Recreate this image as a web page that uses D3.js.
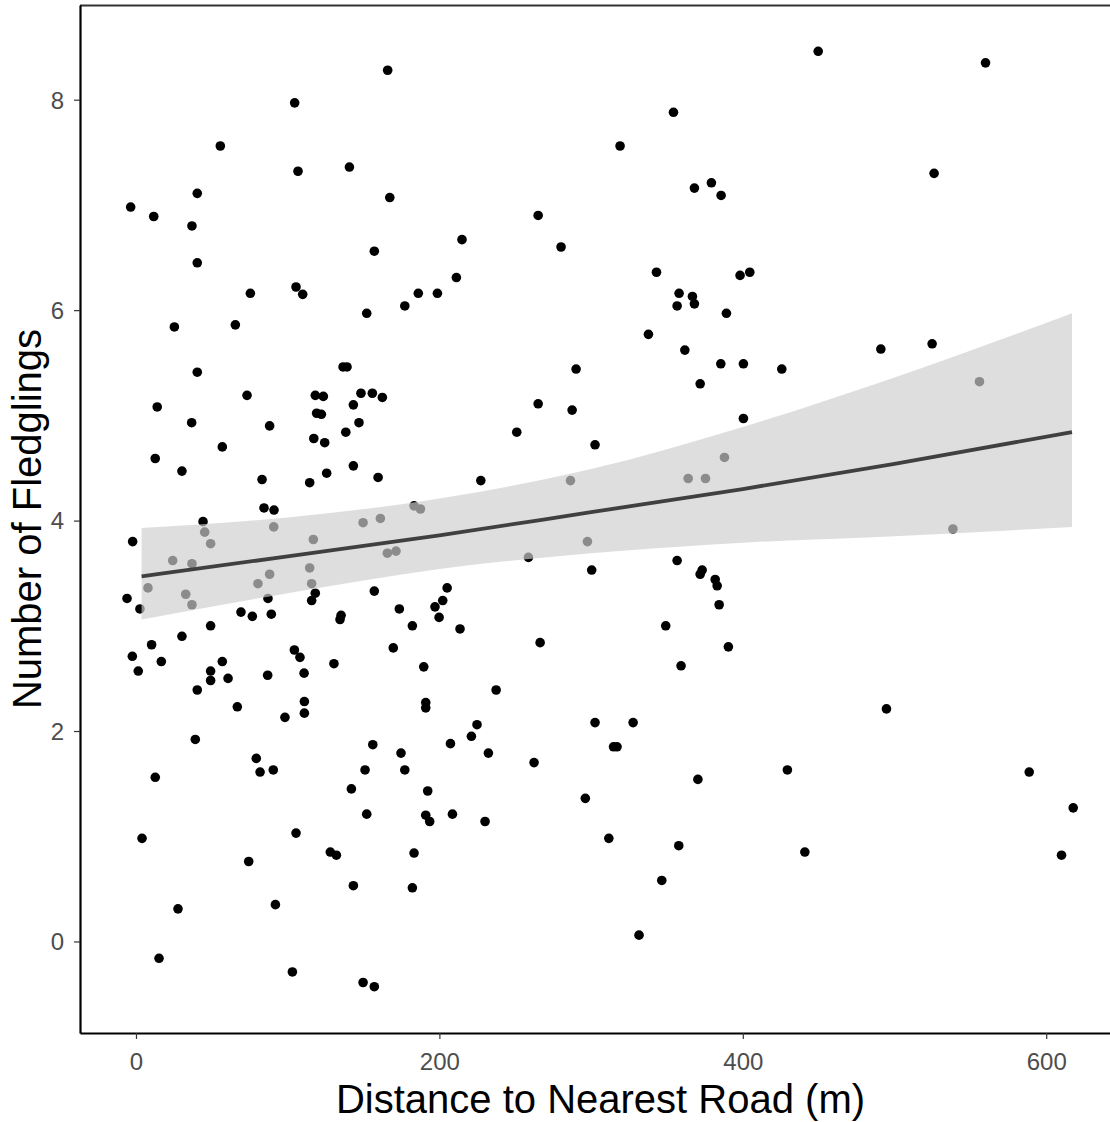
<!DOCTYPE html>
<html><head><meta charset="utf-8">
<script src="https://cdn.jsdelivr.net/npm/d3@7"></script>
<style>body{margin:0;background:#fff;} svg{display:block;}</style>
</head><body>
<script>
// Distance to nearest road (m) for each nest
const distance = [
104.6,55.6,106.8,40.4,-3.5,11.7,36.9,40.4,75.4,105.5,109.9,25.3,65.5,
165.9,140.7,167.3,265.1,214.9,280.2,157.1,211.2,186.1,198.7,177.2,152.1,
449.7,354.3,319.1,379.3,368.1,385.7,343.1,398.2,404.6,358.0,366.8,356.7,368.1,389.2,337.8,361.8,
560.0,526.1,524.8,491.0,
40.4,14.0,73.2,118.2,123.5,36.7,88.1,119.1,122.2,56.9,12.7,117.2,124.4,30.3,83.1,114.5,125.7,84.4,91.0,44.2,
45.3,49.2,90.8,116.9,24.2,36.9,88.1,80.4,114.5,115.8,7.9,32.8,36.9,2.6,-2.2,-5.9,118.2,115.8,87.0,69.2,76.7,89.2,
49.2,30.3,10.3,-2.4,16.7,1.5,56.9,104.4,108.1,130.5,49.2,49.2,60.7,86.8,110.8,40.4,
136.5,139.1,290.1,148.3,155.8,162.4,143.3,265.1,287.5,147.0,138.3,251.0,302.6,143.3,159.6,227.3,286.4,183.3,187.5,
149.7,161.1,165.7,171.4,258.7,297.6,300.4,157.1,205.1,202.2,197.1,199.8,173.6,135.2,134.5,182.2,213.6,169.6,266.4,189.7,237.4,
385.5,400.4,425.7,371.9,400.4,387.9,364.0,375.4,356.7,373.2,371.9,381.8,383.1,384.4,349.2,390.5,359.3,
556.0,538.5,
66.8,111.0,111.0,98.2,39.1,79.3,81.8,90.5,12.7,105.5,128.1,132.1,4.0,74.3,27.7,91.9,15.2,103.1,
191.0,191.0,224.8,221.1,156.1,174.7,207.3,232.3,262.4,302.6,151.0,177.2,142.0,192.3,296.2,152.1,191.0,193.6,208.6,230.1,183.3,143.3,182.2,149.7,157.1,
327.7,314.8,317.1,370.4,429.4,311.7,357.8,440.9,346.6,331.6,
494.7,588.8,617.8,610.1
];
// Number of fledglings (jittered) for each nest
const fledglings = [
7.97,7.56,7.32,7.11,6.98,6.89,6.80,6.45,6.16,6.22,6.15,5.84,5.86,
8.28,7.36,7.07,6.90,6.67,6.60,6.56,6.31,6.16,6.16,6.04,5.97,
8.46,7.88,7.56,7.21,7.16,7.09,6.36,6.33,6.36,6.16,6.13,6.04,6.06,5.97,5.77,5.62,
8.35,7.30,5.68,5.63,
5.41,5.08,5.19,5.19,5.18,4.93,4.90,5.02,5.01,4.70,4.59,4.78,4.74,4.47,4.39,4.36,4.45,4.12,4.10,3.99,
3.89,3.78,3.94,3.82,3.62,3.59,3.49,3.40,3.55,3.40,3.36,3.30,3.20,3.16,3.80,3.26,3.31,3.24,3.26,3.13,3.09,3.11,
3.00,2.90,2.82,2.71,2.66,2.57,2.66,2.77,2.70,2.64,2.57,2.48,2.50,2.53,2.55,2.39,
5.46,5.46,5.44,5.21,5.21,5.17,5.10,5.11,5.05,4.93,4.84,4.84,4.72,4.52,4.41,4.38,4.38,4.14,4.11,
3.98,4.02,3.69,3.71,3.65,3.80,3.53,3.33,3.36,3.24,3.18,3.08,3.16,3.10,3.06,3.00,2.97,2.79,2.84,2.61,2.39,
5.49,5.49,5.44,5.30,4.97,4.60,4.40,4.40,3.62,3.53,3.49,3.44,3.38,3.20,3.00,2.80,2.62,
5.32,3.92,
2.23,2.28,2.17,2.13,1.92,1.74,1.61,1.63,1.56,1.03,0.85,0.82,0.98,0.76,0.31,0.35,-0.16,-0.29,
2.27,2.22,2.06,1.95,1.87,1.79,1.88,1.79,1.70,2.08,1.63,1.63,1.45,1.43,1.36,1.21,1.20,1.14,1.21,1.14,0.84,0.53,0.51,-0.39,-0.43,
2.08,1.85,1.85,1.54,1.63,0.98,0.91,0.85,0.58,0.06,
2.21,1.61,1.27,0.82
];
// fitted trend and confidence band
const fitX  = [3.7, 100, 200, 300, 400, 500, 617];
const fitY  = [3.47, 3.66, 3.86, 4.08, 4.30, 4.54, 4.84];
const fitLo = [3.06, 3.31, 3.54, 3.69, 3.79, 3.85, 3.94];
const fitHi = [3.93, 4.03, 4.21, 4.49, 4.89, 5.36, 5.97];
const xTicks = [0, 200, 400, 600];
const yTicks = [0, 2, 4, 6, 8];
const xTitle = "Distance to Nearest Road (m)";
const yTitle = "Number of Fledglings";

const W = 1110, H = 1122;
const L = 80, R = 1121, T = 5, B = 1033;
const svg = d3.select("body").append("svg").attr("width", W).attr("height", H)
  .style("font-family", "'Liberation Sans', Arial, sans-serif");

const x = d3.scaleLinear().domain([-36.9, 649.3]).range([L, R]);
const y = d3.scaleLinear().domain([-0.87, 8.9]).range([B, T]);

const pts = distance.map((d, i) => ({x: d, y: fledglings[i]}));
const fit = fitX.map((d, i) => ({x: d, y: fitY[i], lo: fitLo[i], hi: fitHi[i]}));

svg.append("g").selectAll("circle").data(pts).join("circle")
  .attr("cx", d => x(d.x)).attr("cy", d => y(d.y)).attr("r", 4.8).attr("fill", "#000");

svg.append("path").datum(fit)
  .attr("d", d3.area().x(d => x(d.x)).y0(d => y(d.lo)).y1(d => y(d.hi)).curve(d3.curveMonotoneX))
  .attr("fill", "rgb(206,206,206)").attr("fill-opacity", 0.68);

svg.append("path").datum(fit)
  .attr("d", d3.line().x(d => x(d.x)).y(d => y(d.y)).curve(d3.curveMonotoneX))
  .attr("fill", "none").attr("stroke", "#404040").attr("stroke-width", 3.8);

// top border
svg.append("line").attr("x1", L).attr("x2", W).attr("y1", T + 0.5).attr("y2", T + 0.5)
  .attr("stroke", "#333").attr("stroke-width", 2);

const xAxis = svg.append("g").attr("transform", `translate(0,${B})`)
  .call(d3.axisBottom(x).tickValues(xTicks).tickSizeInner(6).tickSizeOuter(0).tickPadding(4).tickFormat(d3.format("d")));
xAxis.select(".domain").attr("stroke", "#000").attr("stroke-width", 2.2);
xAxis.selectAll(".tick line").attr("stroke", "#333").attr("stroke-width", 1.2);
xAxis.selectAll(".tick text").attr("fill", "#4d4d4d").attr("font-size", 24)
  .attr("y", 37).attr("dy", null).attr("font-family", "'Liberation Sans', Arial, sans-serif");

const yAxis = svg.append("g").attr("transform", `translate(${L},0)`)
  .call(d3.axisLeft(y).tickValues(yTicks).tickSizeInner(6).tickSizeOuter(0).tickPadding(5).tickFormat(d3.format("d")));
yAxis.select(".domain").attr("stroke", "#000").attr("stroke-width", 2.2);
yAxis.selectAll(".tick line").attr("stroke", "#333").attr("stroke-width", 1.2);
yAxis.selectAll(".tick text").attr("fill", "#4d4d4d").attr("font-size", 24)
  .attr("x", -16).attr("dy", "0.35em").attr("font-family", "'Liberation Sans', Arial, sans-serif");

svg.append("text").attr("x", (L + R) / 2).attr("y", 1113).attr("text-anchor", "middle")
  .attr("font-size", 40).attr("fill", "#000").text(xTitle);
svg.append("text").attr("transform", `translate(41,${(T + B) / 2}) rotate(-90)`)
  .attr("text-anchor", "middle").attr("font-size", 40).attr("fill", "#000").text(yTitle);
</script>
</body></html>
